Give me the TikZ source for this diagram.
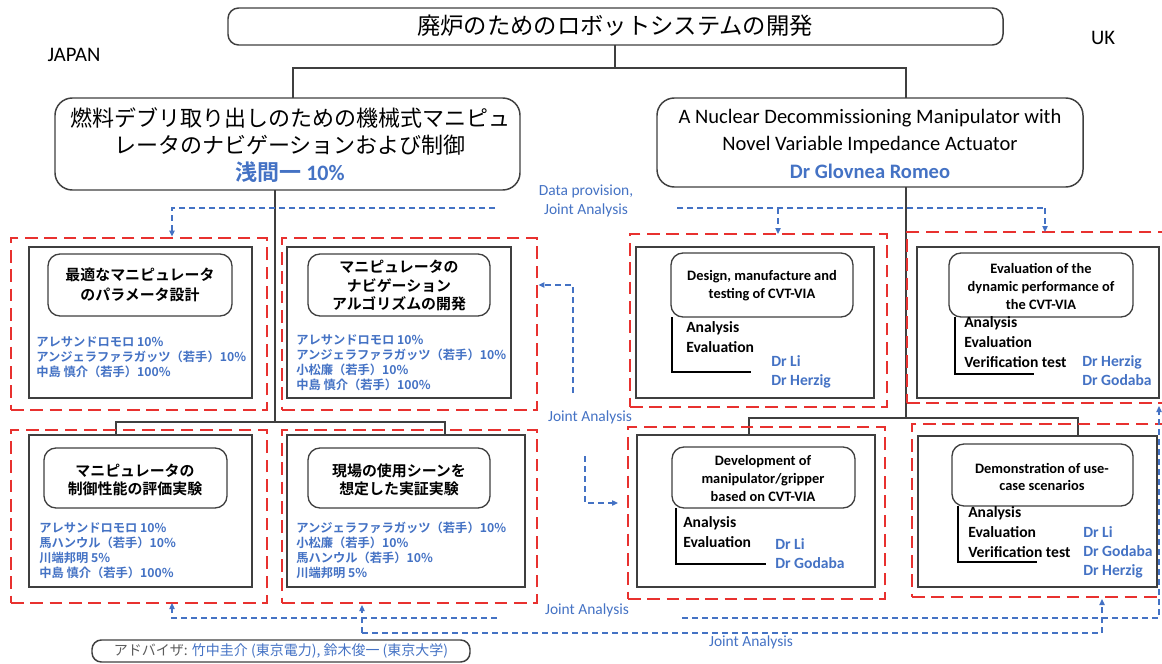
\documentclass[tikz,border=0pt]{standalone}
\usepackage{fontspec}
\setmainfont{Carlito}
\newfontfamily\jp{Noto Sans CJK JP}[BoldFont={Noto Sans CJK JP Bold}]
\usetikzlibrary{fit,arrows.meta}
\definecolor{cblue}{HTML}{4472C4}
\definecolor{cred}{HTML}{E8312F}
\definecolor{cgray}{HTML}{3F3F3F}
\tikzset{
  redbox/.style={draw=cred, line width=2.1pt, dash pattern=on 9.5pt off 5pt, inner sep=0pt},
  blkbox/.style={draw=cgray, line width=1.1pt, inner sep=0pt},
  rbox/.style={draw=cgray, line width=1pt, rounded corners=9pt, inner sep=0pt, fill=white},
  hbox/.style={draw=cgray, line width=1.1pt, rounded corners=13pt, inner sep=0pt},
  tree/.style={draw=cgray, line width=1.1pt},
  bdash/.style={draw=cblue, line width=0.9pt, dash pattern=on 4.5pt off 3pt},
  barr/.style={bdash, -{Triangle[length=4.5pt,width=4pt]}},
  brack/.style={draw=black, line width=2.2pt},
  jtitle/.style={font=\jp\bfseries\fontsize{11.2}{14}\selectfont, align=center, inner sep=0pt},
  etitle/.style={font=\bfseries\fontsize{10.8}{14}\selectfont, align=center, inner sep=0pt},
  names/.style={font=\jp\bfseries\fontsize{9.2}{11.25}\selectfont, text=cblue, align=left, anchor=north west, inner sep=0pt},
  lab/.style={font=\bfseries\fontsize{11.7}{15}\selectfont, align=left, anchor=north west, inner sep=0pt},
  drs/.style={font=\bfseries\fontsize{11.7}{14.25}\selectfont, text=cblue, align=left, anchor=north west, inner sep=0pt},
  ja/.style={font=\fontsize{11.6}{14}\selectfont, text=cblue, inner sep=0pt, align=center},
  plain/.style={inner sep=0pt}
}
\begin{document}
\begin{tikzpicture}[x=0.75pt,y=-0.75pt]
\useasboundingbox (0,0) rectangle (1162,663);
% ---------- tree lines
\draw[tree] (615,45) -- (615,68);
\draw[tree] (293,98) -- (293,68) -- (906,68) -- (906,98);
\draw[tree] (275,190) -- (275,422);
\draw[tree] (116,435) -- (116,422) -- (445,422) -- (445,435);
\draw[tree] (906,187) -- (906,418);
\draw[tree] (749,435) -- (749,418) -- (1078,418) -- (1078,436);
% ---------- title
\node[hbox, rounded corners=8pt, fit={(228,8) (1003,45)}] (title) {};
\node[plain, font=\jp\fontsize{17.5}{20}\selectfont] (titletxt) at (615,26) {廃炉のためのロボットシステムの開発};
\node[plain, font=\fontsize{15.5}{18}\selectfont] (japan) at (74,55) {JAPAN};
\node[plain, font=\fontsize{15.5}{18}\selectfont] (uk) at (1103,38) {UK};
% ---------- headers
\node[hbox, fit={(55,98) (520,190)}] (lh) {};
\node[plain, font=\jp\fontsize{16.5}{20}\selectfont] (lh1) at (290,118) {燃料デブリ取り出しのための機械式マニピュ};
\node[plain, font=\jp\fontsize{16.5}{20}\selectfont] (lh2) at (290,145) {レータのナビゲーションおよび制御};
\node[plain, text=cblue, font=\bfseries\fontsize{16.5}{20}\selectfont] (lh3) at (290,172) {{\jp 浅間一} 10\%};
\node[hbox, fit={(657,98) (1083,187)}] (rh) {};
\node[plain, font=\fontsize{15.4}{20}\selectfont] (rh1) at (870,118) {A Nuclear Decommissioning Manipulator with};
\node[plain, font=\fontsize{15.4}{20}\selectfont] (rh2) at (870,145) {Novel Variable Impedance Actuator};
\node[plain, text=cblue, font=\bfseries\fontsize{15.4}{20}\selectfont] (rh3) at (870,171) {Dr Glovnea Romeo};
% ---------- Japan boxes
\node[redbox, fit={(11,238) (267,410)}] (ra1) {};
\node[blkbox, fit={(29,247) (252,398)}] (ba1) {};
\node[rbox, fit={(48,254) (232,316)}] (ta1) {};
\node[jtitle, font=\jp\bfseries\fontsize{11.2}{15}\selectfont] (tt1) at (140,285) {最適なマニピュレータ\\のパラメータ設計};
\node[names] (na1) at (36,336) {アレサンドロモロ 10\%\\アンジェラファラガッツ（若手）10\%\\中島 慎介（若手）100\%};

\node[redbox, fit={(282,238) (537,410)}] (ra2) {};
\node[blkbox, fit={(287,247) (511,398)}] (ba2) {};
\node[rbox, fit={(308,254) (490,316)}] (ta2) {};
\node[jtitle, font=\jp\bfseries\fontsize{11.2}{13.9}\selectfont] (tt2) at (399,285.5) {マニピュレータの\\ナビゲーション\\アルゴリズムの開発};
\node[names] (na2) at (296,334) {アレサンドロモロ 10\%\\アンジェラファラガッツ（若手）10\%\\小松廉（若手）10\%\\中島 慎介（若手）100\%};

\node[redbox, fit={(11,430) (267,603)}] (ra3) {};
\node[blkbox, fit={(29,435) (252,587)}] (ba3) {};
\node[rbox, fit={(44,448) (227,508)}] (ta3) {};
\node[jtitle, font=\jp\bfseries\fontsize{11.2}{13.5}\selectfont] (tt3) at (135,480) {マニピュレータの\\制御性能の評価実験};
\node[names] (na3) at (39,522) {アレサンドロモロ 10\%\\馬ハンウル（若手）10\%\\川端邦明 5\%\\中島 慎介（若手）100\%};

\node[redbox, fit={(282,430) (537,603)}] (ra4) {};
\node[blkbox, fit={(287,435) (525,587)}] (ba4) {};
\node[rbox, fit={(308,448) (490,508)}] (ta4) {};
\node[jtitle, font=\jp\bfseries\fontsize{11.2}{13.5}\selectfont] (tt4) at (399,480) {現場の使用シーンを\\想定した実証実験};
\node[names] (na4) at (296,522) {アンジェラファラガッツ（若手）10\%\\小松廉（若手）10\%\\馬ハンウル（若手）10\%\\川端邦明 5\%};

% ---------- UK boxes
\node[redbox, fit={(630,234) (887,407)}] (rb1) {};
\node[blkbox, fit={(636,247) (874,398)}] (bb1) {};
\node[rbox, fit={(671,253) (853,317)}] (tb1) {};
\node[etitle] (ub1) at (762,285.5) {Design, manufacture and\\testing of CVT-VIA};
\draw[brack] (672,317) -- (672,372) -- (751,372);
\node[lab] (lb1) at (686,321) {Analysis\\Evaluation};
\node[drs] (db1) at (771,355) {Dr Li\\Dr Herzig};

\node[redbox, fit={(907,232) (1166,403)}] (rb2) {};
\node[blkbox, fit={(917,247) (1159,398)}] (bb2) {};
\node[rbox, fit={(949,253) (1133,317)}] (tb2) {};
\node[etitle, font=\bfseries\fontsize{10.8}{13.5}\selectfont] (ub2) at (1041,286) {Evaluation of the\\dynamic performance of\\the CVT-VIA};
\draw[brack] (955,317) -- (955,374) -- (1034,374);
\node[lab] (lb2) at (964,316) {Analysis\\Evaluation\\Verification test};
\node[drs] (db2) at (1082,355) {Dr Herzig\\Dr Godaba};

\node[redbox, fit={(628,427) (885,599)}] (rb3) {};
\node[blkbox, fit={(637,435) (875,587)}] (bb3) {};
\node[rbox, fit={(672,447) (855,508)}] (tb3) {};
\node[etitle, font=\bfseries\fontsize{10.8}{13.5}\selectfont] (ub3) at (763,478) {Development of\\manipulator/gripper\\based on CVT-VIA};
\draw[brack] (676,508) -- (676,564) -- (766,564);
\node[lab] (lb3) at (683,516) {Analysis\\Evaluation};
\node[drs] (db3) at (775,538) {Dr Li\\Dr Godaba};

\node[redbox, fit={(912,424) (1166,597)}] (rb4) {};
\node[blkbox, fit={(918,436) (1157,587)}] (bb4) {};
\node[rbox, fit={(952,444) (1133,506)}] (tb4) {};
\node[etitle, font=\bfseries\fontsize{10.8}{12.75}\selectfont] (ub4) at (1042,476.5) {Demonstration of use-\\case scenarios};
\draw[brack] (958,506) -- (958,562) -- (1037,562);
\node[lab] (lb4) at (968,506) {Analysis\\Evaluation\\Verification test};
\node[drs] (db4) at (1083,526) {Dr Li\\Dr Godaba\\Dr Herzig};

% ---------- blue dashed connectors
\node[ja, font=\fontsize{11.6}{14.5}\selectfont] (dp) at (586,201) {Data provision,\\Joint Analysis};
\coordinate (dl) at (495,208);
\draw[barr] (dl) -| (ra1.north -| 172,0);
\coordinate (dr) at (677,208);
\draw[bdash] (dr) -- (1045,208);
\draw[barr] (778,208) -- (778,234);
\draw[barr] (1045,208) -- (1045,232);
\draw[barr] (573,393) |- (ra2.east |- 0,285);
\node[ja] (jm) at (590,417) {Joint Analysis};
\draw[barr] (585,456) |- (618,503);
% bottom
\draw[barr] (497,618) -| (172,603);
\node[ja] (jb1) at (587,610) {Joint Analysis};
\draw[barr] (682,618) -| (1159,406);
\draw[barr] (1102,633) -- (1102,599);
\draw[bdash] (362,633) -- (1102,633);
\draw[barr] (362,633) -- (362,605);
\node[ja] (jb2) at (751,642) {Joint Analysis};
% adviser
\node[hbox, rounded corners=7pt, fit={(92,640) (470,662)}] (adv) {};
\node[plain, font=\jp\fontsize{10.5}{12}\selectfont] (advt) at (281,651) {{\color{cgray!85}アドバイザ:} {\color{cblue}竹中圭介 (東京電力), 鈴木俊一 (東京大学)}};
\end{tikzpicture}
\end{document}
